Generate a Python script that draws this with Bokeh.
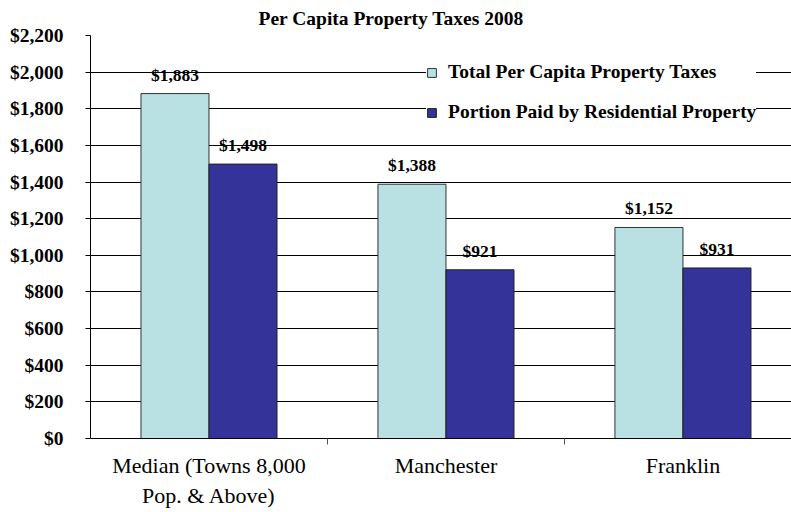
from bokeh.plotting import figure
from bokeh.models import ColumnDataSource, FixedTicker, NumeralTickFormatter, Legend, LegendItem, Range1d
from bokeh.core.properties import value
from bokeh.embed import file_html
from bokeh.resources import INLINE

categories = ["Median (Towns 8,000\nPop. & Above)", "Manchester", "Franklin"]
total_taxes = [1883, 1388, 1152]
residential = [1498, 921, 931]
y_ticks = [0, 200, 400, 600, 800, 1000, 1200, 1400, 1600, 1800, 2000, 2200]
title_text = "Per Capita Property Taxes 2008"
series_names = ["Total Per Capita Property Taxes", "Portion Paid by Residential Property"]

FONT = "'Liberation Serif', 'Times New Roman', serif"
LIGHT = "#B9E0E3"
DARK = "#333399"

centers = [i + 0.5 for i in range(len(categories))]
off = 0.1435
bw = 0.287

src1 = ColumnDataSource(dict(x=[c - off for c in centers], top=total_taxes,
                             lab=["${:,}".format(v) for v in total_taxes]))
src2 = ColumnDataSource(dict(x=[c + off for c in centers], top=residential,
                             lab=["${:,}".format(v) for v in residential]))

p = figure(width=791, height=510, output_backend="svg", toolbar_location=None,
           x_range=Range1d(0, 2.958), y_range=Range1d(0, 2200),
           min_border_left=90, min_border_right=0, min_border_top=35, min_border_bottom=72)
p.outline_line_color = None
p.background_fill_color = "white"

p.title.text = title_text
p.title.text_font = FONT
p.title.text_font_style = "bold"
p.title.text_font_size = "19.5px"
p.title.text_color = "black"
p.title.align = "left"
p.title.offset = 168
p.title.standoff = 11
p.title.vertical_align = "middle"

r1 = p.vbar(x="x", top="top", width=bw, source=src1, fill_color=LIGHT, line_color="#333333", line_width=1)
r2 = p.vbar(x="x", top="top", width=bw, source=src2, fill_color=DARK, line_color="#222222", line_width=1)

for s in (src1, src2):
    p.text(x="x", y="top", text="lab", source=s, text_font=value(FONT), text_font_style="bold",
           text_font_size="17.5px", text_align="center", text_baseline="bottom", y_offset=-9,
           text_color="black")

# y axis
p.yaxis.ticker = FixedTicker(ticks=y_ticks)
p.yaxis.formatter = NumeralTickFormatter(format="$0,0")
p.yaxis.major_label_text_font = FONT
p.yaxis.major_label_text_font_style = "bold"
p.yaxis.major_label_text_font_size = "19.5px"
p.yaxis.major_label_text_color = "black"
p.yaxis.major_label_standoff = 22
p.yaxis.major_tick_out = 5
p.yaxis.major_tick_in = 0
p.yaxis.minor_tick_line_color = None
p.yaxis.axis_line_color = "black"
p.yaxis.major_tick_line_color = "black"

# x axis
p.xaxis.ticker = FixedTicker(ticks=centers, minor_ticks=[1, 2])
p.xaxis.major_label_overrides = {c: lab for c, lab in zip(centers, categories)}
p.xaxis.major_tick_out = 0
p.xaxis.major_tick_in = 0
p.xaxis.minor_tick_out = 6
p.xaxis.minor_tick_in = 0
p.xaxis.minor_tick_line_color = "#555555"
p.xaxis.major_label_text_font = FONT
p.xaxis.major_label_text_font_size = "22px"
p.xaxis.major_label_text_color = "black"
p.xaxis.major_label_standoff = 8
p.xaxis.axis_line_color = "black"

p.xgrid.grid_line_color = None
p.ygrid.grid_line_color = "black"
p.ygrid.grid_line_width = 1

legend = Legend(items=[LegendItem(label=series_names[0], renderers=[r1]),
                       LegendItem(label=series_names[1], renderers=[r2])],
                location=(336, 315))
legend.label_text_font = FONT
legend.label_text_font_style = "bold"
legend.label_text_font_size = "19.5px"
legend.label_text_color = "black"
legend.glyph_width = 11
legend.glyph_height = 11
legend.label_height = 22
legend.label_standoff = 11
legend.spacing = 18
legend.padding = 15
legend.border_line_color = None
legend.background_fill_color = "white"
legend.background_fill_alpha = 1
p.add_layout(legend, "center")

open("out.html", "w").write(file_html(p, INLINE))
